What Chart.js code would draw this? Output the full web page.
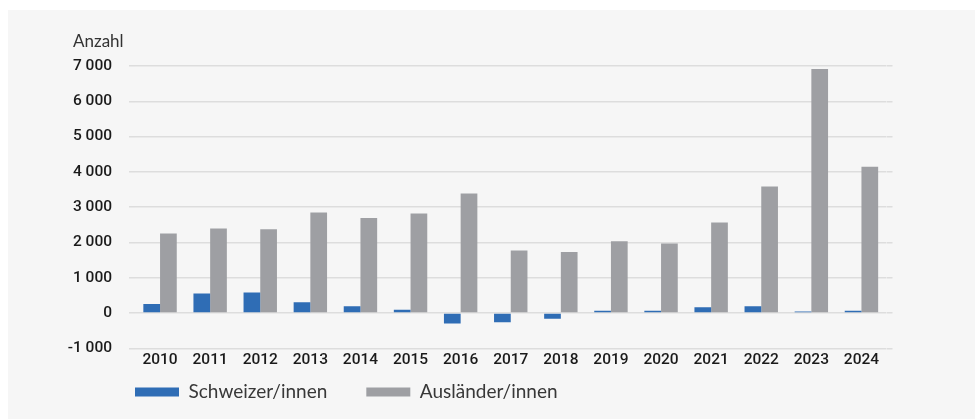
<!DOCTYPE html>
<html>
<head>
<meta charset="utf-8">
<script src="https://cdn.jsdelivr.net/npm/chart.js@4/dist/chart.umd.min.js"></script>
<style>
  html, body { margin: 0; padding: 0; background: #ffffff; }
  #panel { position: absolute; left: 8px; top: 10px; width: 967px; height: 409px; background: #f6f6f6; }
  #c { display: block; }
</style>
</head>
<body>
<div id="panel"><canvas id="c" width="967" height="409"></canvas></div>
<script>
const years = ['2010','2011','2012','2013','2014','2015','2016','2017','2018','2019','2020','2021','2022','2023','2024'];
const schweizer = [255, 550, 580, 305, 190, 95, -300, -265, -160, 65, 65, 160, 190, 40, 65];
const auslaender = [2250, 2395, 2375, 2850, 2690, 2820, 3390, 1770, 1730, 2035, 1970, 2565, 3585, 6915, 4145];
const seriesNames = ['Schweizer/innen', 'Ausländer/innen'];
const yTitle = 'Anzahl';

const fmt = v => (v < 0 ? '-' : '') + String(Math.abs(v)).replace(/\B(?=(\d{3})+(?!\d))/g, ' ');
const FONT = 'Lato, "Open Sans", sans-serif';
const TICKFONT = 'Roboto, Lato, sans-serif';
const GRID = '#dddddd';
const LEG_PAD = 39;

const titlePlugin = {
  id: 'ytitle',
  afterDraw(chart) {
    const ctx = chart.ctx;
    ctx.save();
    ctx.font = '17px ' + FONT;
    ctx.fillStyle = '#333333';
    ctx.textBaseline = 'alphabetic';
    ctx.textAlign = 'left';
    ctx.fillText(yTitle, 65, 36.5);
    ctx.restore();
  }
};

const legendPlace = {
  id: 'legendPlace',
  afterLayout(chart) {
    const lg = chart.legend;
    if (!lg) return;
    lg.left = 127 - LEG_PAD;
    lg.right = chart.width;
    lg.top = 333.5 - 0;
    lg.bottom = chart.height;
    lg.width = lg.right - lg.left;
    lg.height = lg.bottom - lg.top;
  }
};

new Chart(document.getElementById('c'), {
  type: 'bar',
  data: {
    labels: years,
    datasets: [
      { label: seriesNames[0], data: schweizer, backgroundColor: '#2f6db5', yAxisID: 'y' },
      { label: seriesNames[1], data: auslaender, backgroundColor: '#9e9fa3', yAxisID: 'y' }
    ]
  },
  options: {
    responsive: false,
    animation: false,
    categoryPercentage: 0.667,
    barPercentage: 1.0,
    layout: { padding: { left: 0, right: 0, top: 56, bottom: 18.7 } },
    plugins: {
      tooltip: { enabled: false },
      title: { display: false },
      legend: {
        position: 'bottom',
        align: 'start',
        maxHeight: 30,
        labels: {
          boxWidth: 44,
          boxHeight: 9,
          padding: LEG_PAD,
          color: '#383838',
          font: { family: FONT, size: 19 }
        }
      }
    },
    scales: {
      x: {
        afterFit(scale) { scale.height = 22; },
        grid: { display: false, drawTicks: false },
        border: { display: false },
        ticks: { color: '#1a1a1a', font: { family: TICKFONT, size: 15.5, weight: '500' }, padding: 3, maxRotation: 0, autoSkip: false }
      },
      y: {
        position: 'left',
        min: -1000, max: 7000,
        afterFit(scale) { scale.width = 127; },
        grid: { color: GRID, lineWidth: 1.5, drawTicks: true, tickLength: 6, tickColor: GRID },
        border: { display: false },
        ticks: { stepSize: 1000, padding: 17, color: '#1a1a1a', font: { family: TICKFONT, size: 15.5, weight: '500' }, callback: v => fmt(v) }
      },
      y2: {
        position: 'right',
        min: -1000, max: 7000,
        afterFit(scale) { scale.width = 88.5; },
        grid: { drawOnChartArea: false, color: GRID, lineWidth: 1.5, drawTicks: true, tickLength: 6, tickColor: GRID },
        border: { display: false },
        ticks: { stepSize: 1000, display: false }
      }
    }
  },
  plugins: [titlePlugin, legendPlace]
});
</script>
</body>
</html>
